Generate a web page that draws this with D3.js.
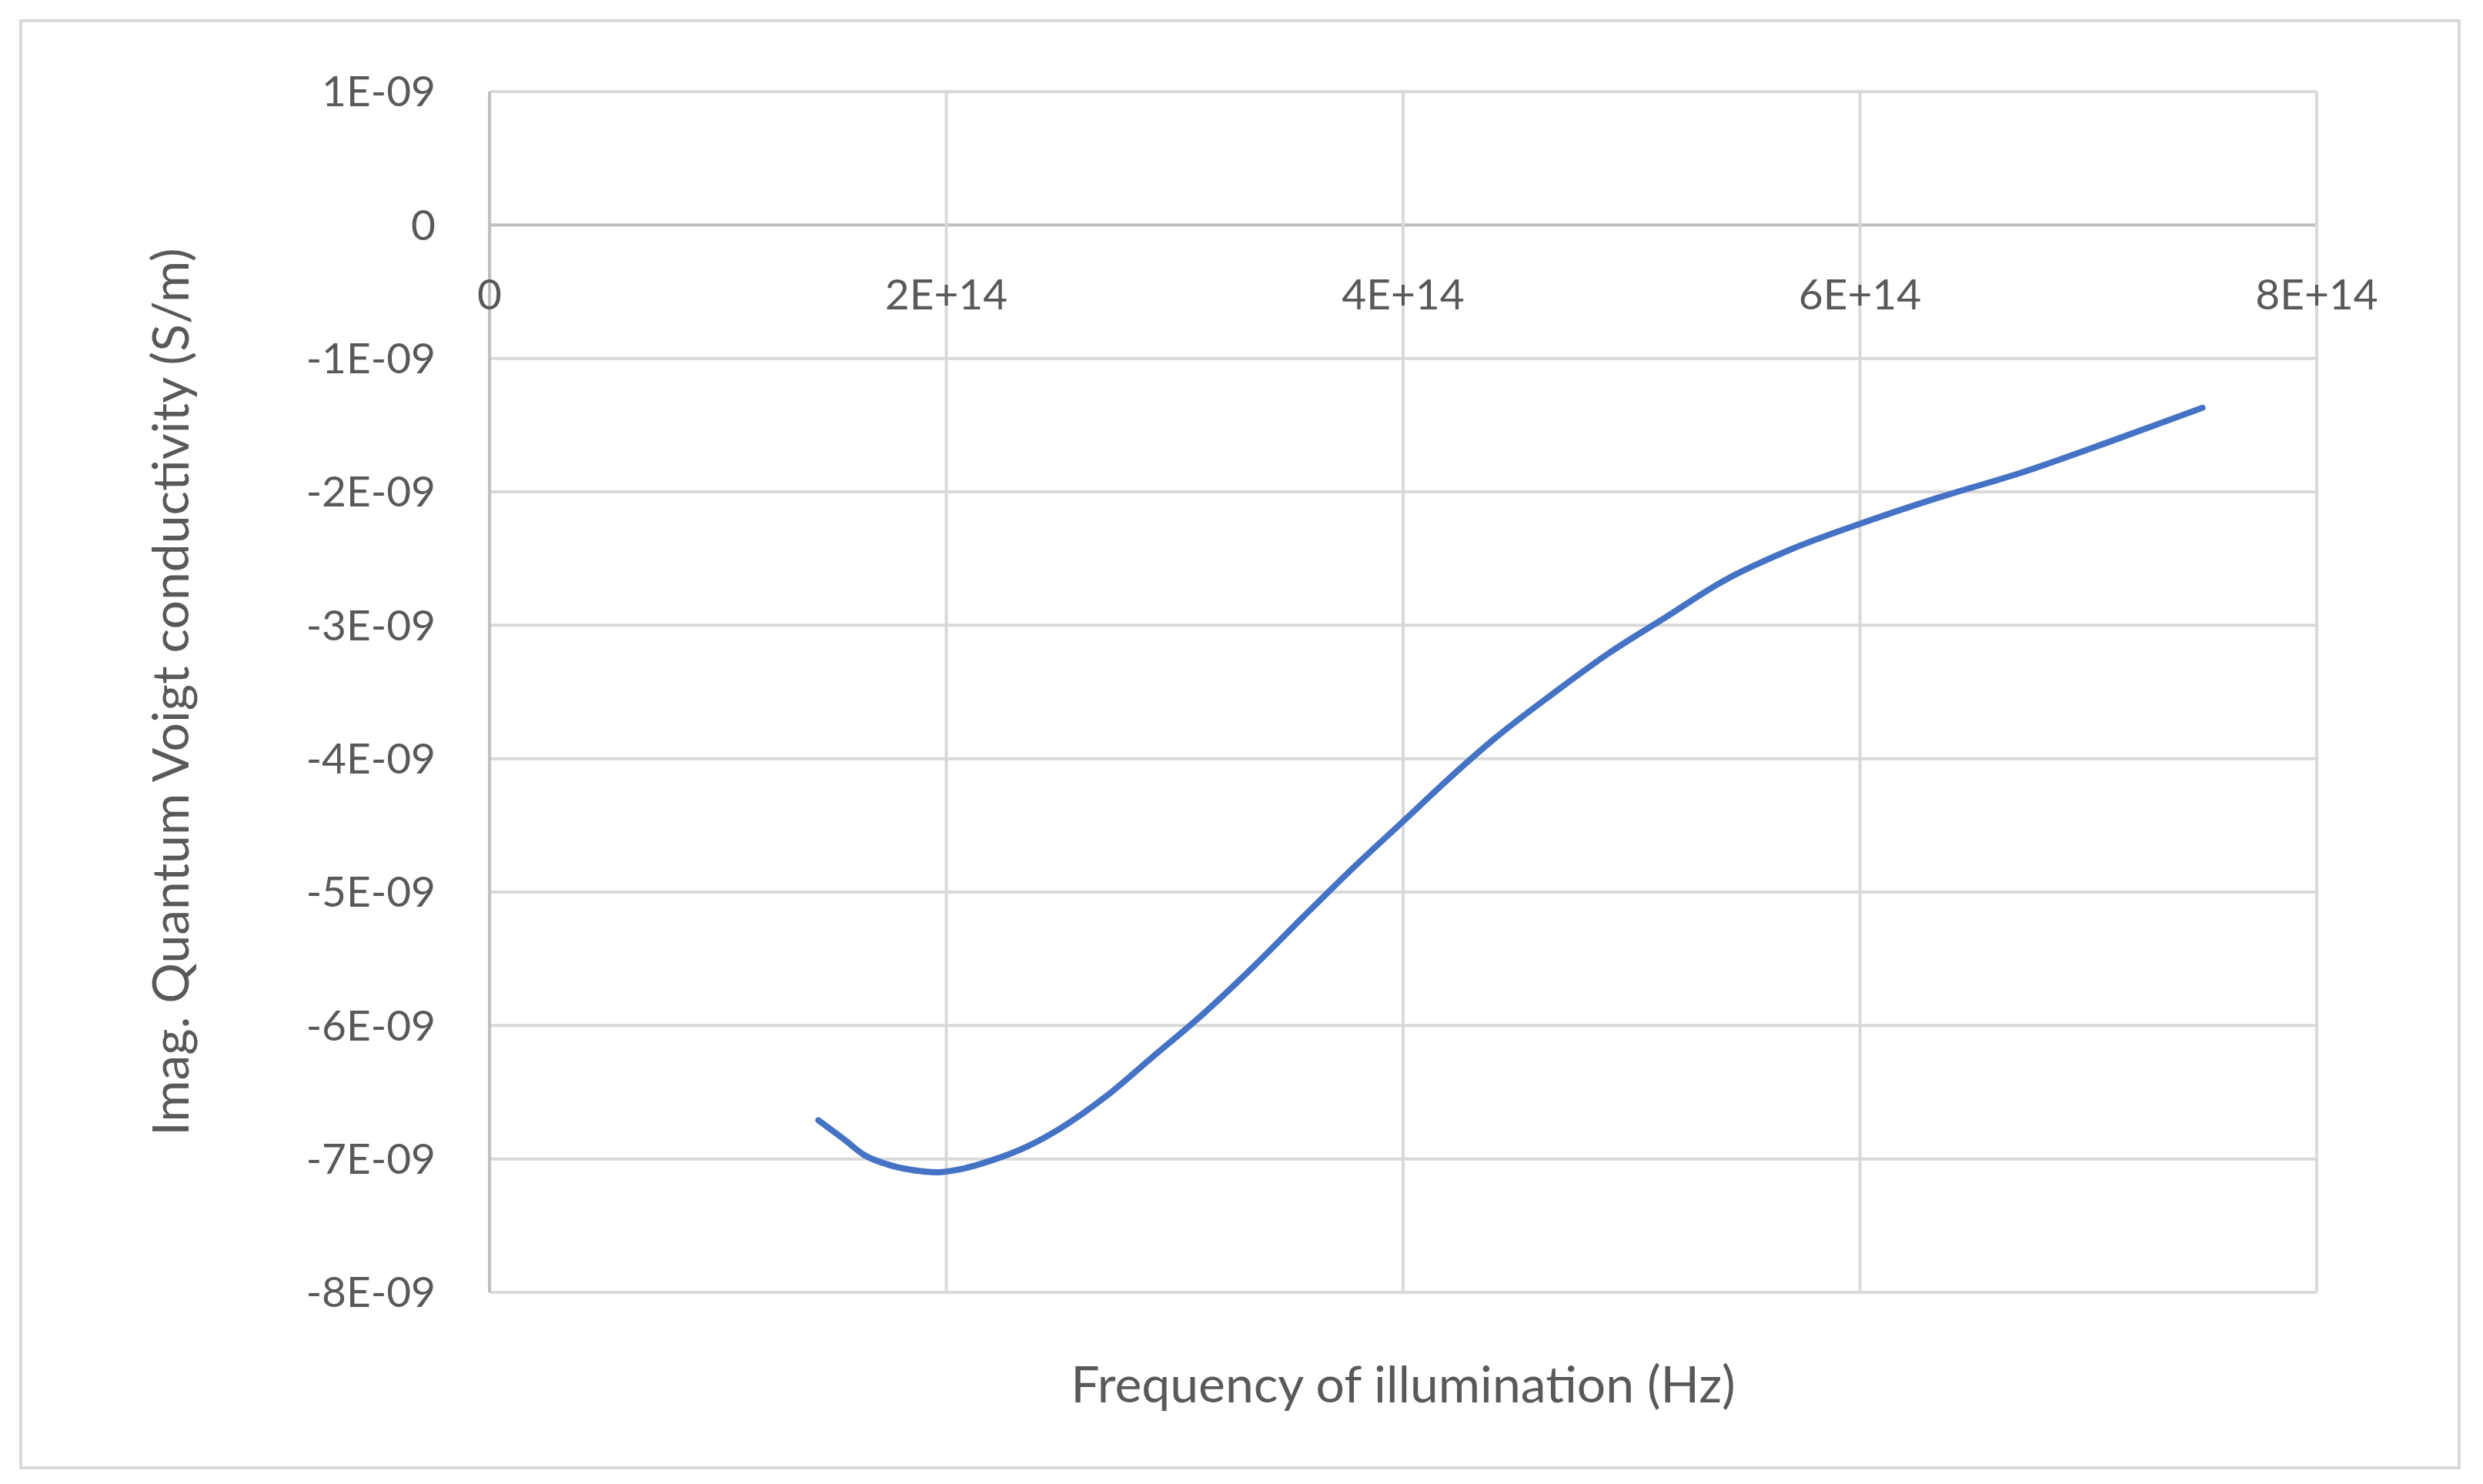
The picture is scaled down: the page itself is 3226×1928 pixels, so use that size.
<!DOCTYPE html>
<html>
<head>
<meta charset="utf-8">
<script src="https://cdn.jsdelivr.net/npm/d3@7"></script>
<style>
  body { margin: 0; background: #fff; }
  text { font-family: Lato, "Open Sans", sans-serif; fill: #595959; }
</style>
</head>
<body>
<svg id="chart"></svg>
<script>
const W = 3226, H = 1928

// data (Hz, S/m)
const freq = [1.44e14, 1.55e14, 1.64e14, 1.74e14, 1.84e14, 1.96e14, 2.08e14, 2.2e14, 2.35e14, 2.5e14, 2.7e14, 2.9e14, 3.12e14, 3.35e14, 3.56e14, 3.78e14, 4.0e14, 4.2e14, 4.4e14, 4.65e14, 4.9e14, 5.15e14, 5.4e14, 5.7e14, 6.0e14, 6.35e14, 6.7e14, 7.1e14, 7.5e14]
const sigma = [-6.71e-9, -6.85e-9, -6.97e-9, -7.04e-9, -7.08e-9, -7.10e-9, -7.07e-9, -7.01e-9, -6.91e-9, -6.77e-9, -6.53e-9, -6.24e-9, -5.92e-9, -5.55e-9, -5.19e-9, -4.82e-9, -4.47e-9, -4.15e-9, -3.85e-9, -3.52e-9, -3.21e-9, -2.94e-9, -2.67e-9, -2.43e-9, -2.24e-9, -2.04e-9, -1.86e-9, -1.62e-9, -1.37e-9]
const xTicks = [0, 2e14, 4e14, 6e14, 8e14]
const xTickLabels = ['0', '2E+14', '4E+14', '6E+14', '8E+14']
const yTicks = [1e-9, 0, -1e-9, -2e-9, -3e-9, -4e-9, -5e-9, -6e-9, -7e-9, -8e-9]
const yTickLabels = ['1E-09', '0', '-1E-09', '-2E-09', '-3E-09', '-4E-09', '-5E-09', '-6E-09', '-7E-09', '-8E-09']

const svg = d3.select('#chart').attr('width', W).attr('height', H)

// outer chart border
svg.append('rect')
  .attr('x', 27).attr('y', 27).attr('width', 3168).attr('height', 1880)
  .attr('fill', 'none').attr('stroke', '#d9d9d9').attr('stroke-width', 4)

const plotLeft = 636, plotRight = 3010, plotTop = 119, plotBottom = 1679

const x = d3.scaleLinear().domain([0, 8e14]).range([plotLeft, plotRight])
const y = d3.scaleLinear().domain([-8e-9, 1e-9]).range([plotBottom, plotTop])

// gridlines
svg.append('g').selectAll('line').data(yTicks).enter().append('line')
  .attr('x1', plotLeft).attr('x2', plotRight)
  .attr('y1', d => y(d)).attr('y2', d => y(d))
  .attr('stroke', d => d === 0 ? '#bfbfbf' : '#d9d9d9')
  .attr('stroke-width', 4)

svg.append('g').selectAll('line').data(xTicks).enter().append('line')
  .attr('y1', plotTop).attr('y2', plotBottom)
  .attr('x1', d => x(d)).attr('x2', d => x(d))
  .attr('stroke', d => d === 0 ? '#bfbfbf' : '#d9d9d9')
  .attr('stroke-width', 4)

// y tick labels
svg.append('g').selectAll('text').data(yTicks).enter().append('text')
  .attr('x', 566).attr('y', d => y(d))
  .attr('dy', '0.35em')
  .attr('text-anchor', 'end')
  .attr('font-size', 55)
  .text((d, i) => yTickLabels[i])

// x tick labels (sit just under the zero line)
svg.append('g').selectAll('text').data(xTicks).enter().append('text')
  .attr('x', d => x(d)).attr('y', y(0) + 110)
  .attr('text-anchor', 'middle')
  .attr('font-size', 55)
  .text((d, i) => xTickLabels[i])

// the curve
const pts = freq.map((f, i) => [f, sigma[i]])
svg.append('path')
  .datum(pts)
  .attr('fill', 'none')
  .attr('stroke', '#4472c4')
  .attr('stroke-width', 8)
  .attr('stroke-linecap', 'round')
  .attr('d', d3.line().x(d => x(d[0])).y(d => y(d[1])).curve(d3.curveMonotoneX))

// axis titles
svg.append('text')
  .attr('x', (plotLeft + plotRight) / 2).attr('y', 1822)
  .attr('text-anchor', 'middle')
  .attr('font-size', 66)
  .text('Frequency of illumination (Hz)')

svg.append('text')
  .attr('transform', `translate(245, ${(plotTop + plotBottom) / 2}) rotate(-90)`)
  .attr('text-anchor', 'middle')
  .attr('font-size', 66)
  .text('Imag. Quantum Voigt conductivity (S/m)')
</script>
</body>
</html>
